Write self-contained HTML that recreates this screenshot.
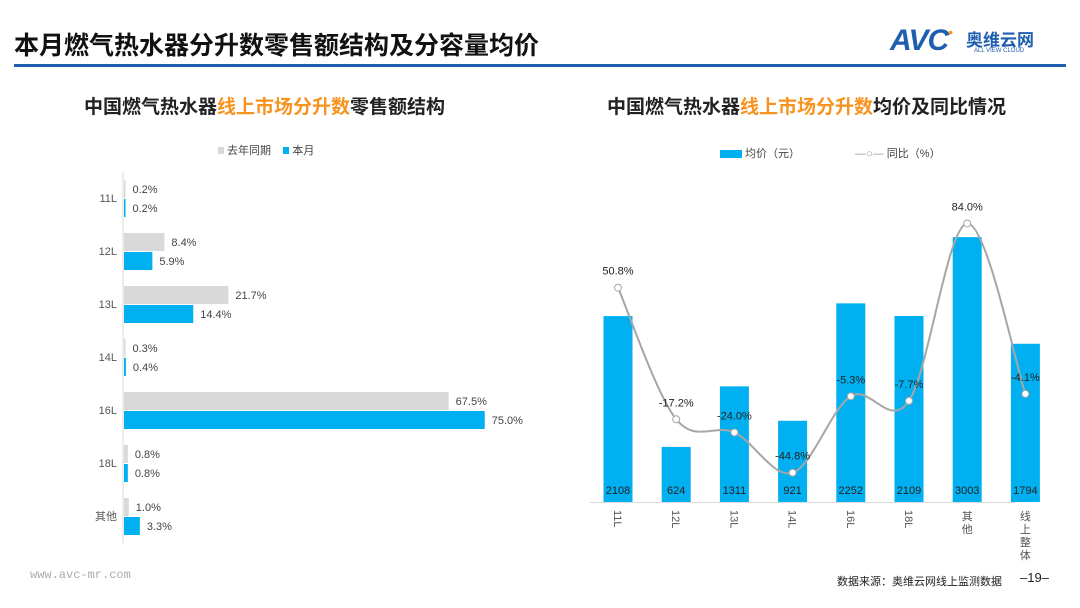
<!DOCTYPE html>
<html><head><meta charset="utf-8"><style>
body{margin:0;width:1080px;height:608px;background:#fff;overflow:hidden;font-family:"Liberation Sans","Noto Sans CJK SC",sans-serif;position:relative}
.abs{position:absolute}
</style></head><body>
<div class="abs" style="left:14px;top:26px;font-size:25px;font-weight:bold;color:#111;font-family:'Liberation Sans','Noto Sans CJK SC',sans-serif">本月燃气热水器分升数零售额结构及分容量均价</div>
<div class="abs" style="left:14px;top:64px;width:1052px;height:3px;background:#1f5fb0"></div>
<div class="abs" style="left:890px;top:24px;color:#1f5fb0">
 <span style="font-size:30px;font-weight:bold;font-style:italic;letter-spacing:-1px">AVC</span><span style="color:#f7931e;font-size:14px;vertical-align:top">•</span>
 <span class="abs" style="left:76px;top:2px;font-size:17px;font-weight:bold;white-space:nowrap">奥维云网</span>
 <span class="abs" style="left:84px;top:24px;font-size:6px;white-space:nowrap">ALL VIEW CLOUD</span>
</div>
<div class="abs" style="left:84px;top:92px;font-size:19px;font-weight:bold;color:#222">中国燃气热水器<span style="color:#f7931e">线上市场分升数</span>零售额结构</div>
<div class="abs" style="left:607px;top:92px;font-size:19px;font-weight:bold;color:#222">中国燃气热水器<span style="color:#f7931e">线上市场分升数</span>均价及同比情况</div>
<div class="abs" style="left:218px;top:142px;font-size:11px;color:#444">
 <span style="display:inline-block;width:6px;height:7px;background:#d9d9d9"></span> 去年同期 &nbsp;&nbsp; <span style="display:inline-block;width:6px;height:7px;background:#00b0f0"></span> 本月</div>
<div class="abs" style="left:720px;top:145px;font-size:11px;color:#444">
 <span style="display:inline-block;width:22px;height:8px;background:#00b0f0;vertical-align:-1px"></span> 均价（元） &nbsp;&nbsp;&nbsp;&nbsp;&nbsp;&nbsp;&nbsp;&nbsp;&nbsp;&nbsp;&nbsp;&nbsp;&nbsp;&nbsp;&nbsp;&nbsp; <span style="color:#999">—○—</span> 同比（%）</div>
<svg id="left" class="abs" style="left:0;top:0" width="540" height="608"></svg>
<svg id="right" class="abs" style="left:540px;top:0" width="540" height="608"></svg>
<div class="abs" style="left:30px;top:568px;font-size:12px;color:#aaa;font-family:'Liberation Mono',monospace">www.avc-mr.com</div>
<div class="abs" style="left:837px;top:573px;font-size:11px;color:#222">数据来源：奥维云网线上监测数据</div>
<div class="abs" style="left:1020px;top:570px;font-size:13px;color:#222">–19–</div>
<script>
const leftCats=["11L","12L","13L","14L","16L","18L","其他"];
const lastYear=[0.2,8.4,21.7,0.3,67.5,0.8,1.0];
const thisMonth=[0.2,5.9,14.4,0.4,75.0,0.8,3.3];
const rightCats=["11L","12L","13L","14L","16L","18L","其他","线上整体"];
const avgPrice=[2108,624,1311,921,2252,2109,3003,1794];
const yoy=[50.8,-17.2,-24.0,-44.8,-5.3,-7.7,84.0,-4.1];
const NS="http://www.w3.org/2000/svg";
function mk(svg,t,a,txt){const e=document.createElementNS(NS,t);for(const k in a)e.setAttribute(k,a[k]);if(txt!=null)e.textContent=txt;svg.appendChild(e);return e;}
const L=document.getElementById('left');
const x0=123,xs=v=>v*4.81,rowY=i=>198+i*53;
let ax=mk(L,'line',{x1:x0,y1:172,x2:x0,y2:543,stroke:'#d9d9d9'});

leftCats.forEach((c,i)=>{const cy=rowY(i);
 let t=mk(L,'text',{x:117,y:cy+4,'text-anchor':'end','font-size':11,fill:'#555'},c);
 
 let g=mk(L,'rect',{x:x0+1,y:cy-18,width:Math.max(xs(lastYear[i]),1.5),height:18,fill:'#d9d9d9'});
 
 let b=mk(L,'rect',{x:x0+1,y:cy+1,width:Math.max(xs(thisMonth[i]),1.5),height:18,fill:'#00b0f0'});
 
 let l1=mk(L,'text',{x:x0+Math.max(xs(lastYear[i]),1.5)+8,y:cy-5,'font-size':11,fill:'#444'},lastYear[i].toFixed(1)+'%');
 
 let l2=mk(L,'text',{x:x0+Math.max(xs(thisMonth[i]),1.5)+8,y:cy+14,'font-size':11,fill:'#444'},thisMonth[i].toFixed(1)+'%');
 
});
const R=document.getElementById('right');
const base=502,ps=v=>base-v*0.0882,cx=i=>78+i*58.2,py=v=>386-v*1.935;
let bl=mk(R,'line',{x1:50,y1:base+0.5,x2:475,y2:base+0.5,stroke:'#d9d9d9'});

rightCats.forEach((c,i)=>{
 let r=mk(R,'rect',{x:cx(i)-14.5,y:ps(avgPrice[i]),width:29,height:base-ps(avgPrice[i]),fill:'#00b0f0'});
 
 let t=mk(R,'text',{x:cx(i),y:494,'text-anchor':'middle','font-size':11,fill:'#222'},avgPrice[i]);
 
 let lab;
 if(c.length<=3&&/L/.test(c)){lab=mk(R,'text',{'font-size':11,fill:'#555',transform:`translate(${cx(i)-4},${510}) rotate(90)`},c);}
 else{lab=mk(R,'text',{x:cx(i),y:520,'text-anchor':'middle','font-size':11,fill:'#555'});
  [...c].forEach((ch,k)=>{const s=mk(lab,'tspan',{x:cx(i),dy:k?13:0},ch);});}
 
});
const pts=yoy.map((v,i)=>[cx(i),py(v)]);
let d=`M${pts[0][0]},${pts[0][1]}`;
for(let i=0;i<pts.length-1;i++){const p0=pts[i-1]||pts[i],p1=pts[i],p2=pts[i+1],p3=pts[i+2]||p2;
 d+=` C${p1[0]+(p2[0]-p0[0])/6},${p1[1]+(p2[1]-p0[1])/6} ${p2[0]-(p3[0]-p1[0])/6},${p2[1]-(p3[1]-p1[1])/6} ${p2[0]},${p2[1]}`;}
let ln=mk(R,'path',{d:d,fill:'none',stroke:'#a6a6a6','stroke-width':2});

pts.forEach((p,i)=>{
 let c=mk(R,'circle',{cx:p[0],cy:p[1],r:3.5,fill:'#fff',stroke:'#a6a6a6','stroke-width':1});
 
 let t=mk(R,'text',{x:p[0],y:p[1]-13,'text-anchor':'middle','font-size':11,fill:'#222'},yoy[i].toFixed(1)+'%');
 
});
</script>
</body></html>
